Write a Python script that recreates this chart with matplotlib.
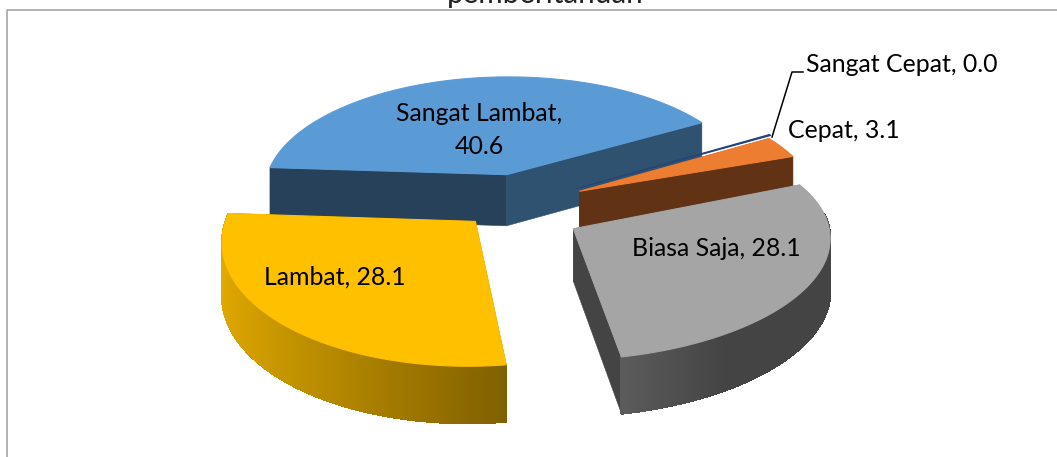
import numpy as np
import matplotlib
matplotlib.use('Agg')
import matplotlib.pyplot as plt
from matplotlib.colors import to_rgb
from matplotlib.patches import Polygon

categories = ['Sangat Cepat', 'Cepat', 'Biasa Saja', 'Lambat', 'Sangat Lambat']
values = [0.0, 3.1, 28.1, 28.1, 40.6]
top_colors = ['#264478', '#ED7D31', '#A5A5A5', '#FFC000', '#5B9BD5']
title = 'pemberitahuan'

# pie geometry, in pixels of the reference
first_angle = 30.0   # degrees from east, slices run clockwise
radius = 248.0
explode = 65.0
depth = 52.0
cx, cy = 521.0, 204.0
persp = 0.14
squash = 0.48
# per slice tweaks on screen, the original's 3D view isn't a plain projection
nudge_x = [0, 0, -4, 0, 0]
nudge_y = [0, 0, 8, -6, 0]
radius_k = [1, 0.975, 1, 0.98, 1]
flatten = [1, 1, 0.91, 1.01, 1]
shear = [0, 0, -0.04, 0, 0]


def plane(x, y):
    # x, y on the pie plane, y goes away from the viewer
    s = 1.0 / (1.0 + persp * y / radius)
    return cx + x * s, cy - squash * y * s, s


def project(i, ox, oy, x, y, h=0.0):
    # screen position of a point of slice i whose tip is at ox, oy; h = drop below the top
    px, py, s = plane(x, y)
    tx, ty, _ = plane(ox, oy)
    py = ty + (py - ty) * flatten[i] + shear[i] * (px - tx)
    return px + nudge_x[i], py + nudge_y[i] + h * np.sqrt(s)


def mix(col, k):
    r = np.array(to_rgb(col)) * k
    return tuple(np.clip(r, 0, 1))


def arc(i, a0, a1, ox, oy, n=120):
    t = np.linspace(a0, a1, n)
    r = np.radians(t)
    rad = radius * radius_k[i]
    return t, ox + rad * np.cos(r), oy + rad * np.sin(r)


def rim_shade(i, ang):
    dx = np.cos(np.radians(ang))
    if categories[i] == 'Lambat':
        return 0.88 - 0.38 * (dx + 0.98) / 1.12
    if categories[i] == 'Biasa Saja':
        return 0.41 + 0.14 * np.clip((0.5 - dx) / 0.35, 0, 1)
    return 0.42


fig = plt.figure(figsize=(10.57, 4.57), dpi=100)
ax = fig.add_axes([0, 0, 1, 1])
ax.set_xlim(0, 1057)
ax.set_ylim(457, 0)
ax.axis('off')

# chart frame
ax.plot([6.5, 6.5, 1057], [457, 9.5, 9.5], color='#a6a6a6', lw=1.2)
ax.text(545, 3, title, ha='center', va='baseline', fontsize=21.3, family='Lato', color='#222222')

# angles of every slice from the values
total = sum(values)
spans = [v / total * 360 for v in values]
starts = first_angle - np.concatenate([[0], np.cumsum(spans)[:-1]])
ends = starts - np.array(spans)

# painted back to front
order = [4, 0, 1, 2, 3]
z = 2
for i in order:
    a0, a1 = starts[i], ends[i]
    col = top_colors[i]
    mid = np.radians((a0 + a1) / 2)
    ox, oy = explode * np.cos(mid), explode * np.sin(mid)
    zero_slice = values[i] == 0
    if zero_slice:
        # zero slice only shows as a sliver behind the orange one
        a0, a1 = a0 + 0.3, a1 - 0.3
    t, rx, ry = arc(i, a0, a1, ox, oy)

    if not zero_slice:
        # radial side faces
        for e, k in ((0, 0.42), (-1, 0.53 if i == 4 else 0.41)):
            face = [project(i, ox, oy, ox, oy), project(i, ox, oy, rx[e], ry[e]),
                    project(i, ox, oy, rx[e], ry[e], depth), project(i, ox, oy, ox, oy, depth)]
            ax.add_patch(Polygon(face, closed=True, fc=mix(col, k), ec=mix(col, k), lw=0.4, zorder=z))
            z += 1

        # outer rim, shaded along its length
        for j in range(len(t) - 1):
            if np.sin(np.radians(t[j])) > 0.05:
                continue
            c = mix(col, rim_shade(i, t[j]))
            q = [project(i, ox, oy, rx[j], ry[j]), project(i, ox, oy, rx[j + 1], ry[j + 1]),
                 project(i, ox, oy, rx[j + 1], ry[j + 1], depth), project(i, ox, oy, rx[j], ry[j], depth)]
            ax.add_patch(Polygon(q, closed=True, fc=c, ec=c, lw=1.0, antialiased=False, zorder=z))
            z += 1

    # top face
    px, py = project(i, ox, oy, np.concatenate([[ox], rx]), np.concatenate([[oy], ry]))
    ax.add_patch(Polygon(np.column_stack([px, py]), closed=True, fc=col, ec=col, lw=0.8, zorder=z))
    z += 1

# data labels
lab = dict(fontsize=17.9, family='Lato', color='black', zorder=z + 1)
ax.text(479, 130, 'Sangat Lambat,\n%.1f' % values[4], ha='center', va='center', linespacing=1.5, **lab)
ax.text(335, 277, 'Lambat, %.1f' % values[3], ha='center', va='center', **lab)
ax.text(716, 249, 'Biasa Saja, %.1f' % values[2], ha='center', va='center', **lab)
ax.text(844, 131, 'Cepat, %.1f' % values[1], ha='center', va='center', **lab)
ax.text(902, 65, 'Sangat Cepat, %.1f' % values[0], ha='center', va='center', **lab)
ax.plot([772, 792, 803], [137, 72, 72], color='black', lw=1.1, zorder=z + 1)

fig.savefig('out.png', dpi=100)
